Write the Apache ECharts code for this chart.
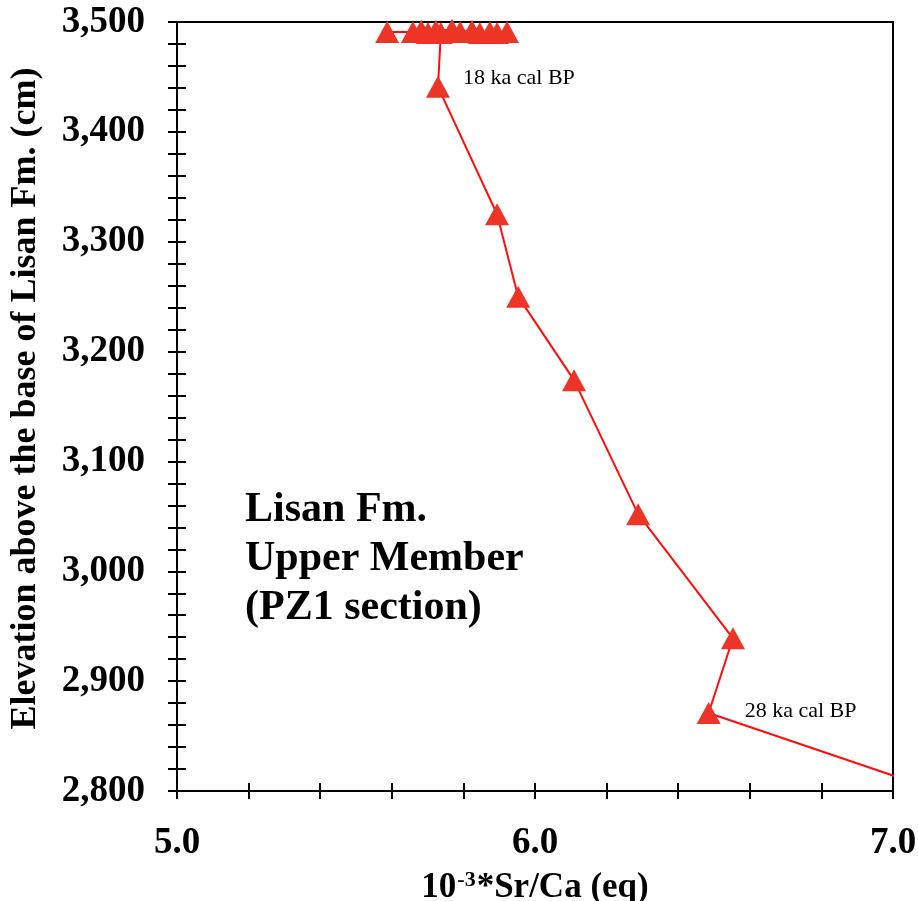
<!DOCTYPE html>
<html>
<head>
<meta charset="utf-8">
<script src="https://cdn.jsdelivr.net/npm/echarts@6/dist/echarts.min.js"></script>
<style>html,body{margin:0;padding:0;background:#fff}#c{width:918px;height:901px}</style>
</head>
<body>
<div id="c"></div>
<script>
// Sr/Ca ratio (10^-3, eq) vs elevation above base of Lisan Fm. (cm), PZ1 section
const srCa = [5.587, 5.659, 5.682, 5.701, 5.723, 5.768, 5.791, 5.824, 5.846, 5.874, 5.894, 5.922, 5.737, 5.729, 5.894, 5.953, 6.109, 6.288, 6.553, 6.485, 7.2];
const elevation = [3491, 3491, 3492, 3490, 3492, 3493, 3491, 3492, 3490, 3491, 3490, 3491, 3490, 3441, 3325, 3250, 3174, 3052, 2939, 2871, 2792];
const xTickLabels = ['5.0', '6.0', '7.0'];
const annotations = [{ index: 13, text: '18 ka cal BP' }, { index: 19, text: '28 ka cal BP' }];
const panelTitle = ['Lisan Fm.', 'Upper Member', '(PZ1 section)'];

const FONT = 'Liberation Serif';
const points = srCa.map((x, i) => {
  const p = { value: [x, elevation[i]] };
  const a = annotations.find(a => a.index === i);
  if (a) {
    p.label = {
      show: true, formatter: a.text, position: 'right',
      distance: i === 13 ? 13 : 24, offset: i === 13 ? [0, -9] : [0, -2],
      fontFamily: FONT, fontSize: 22, color: '#000'
    };
  }
  return p;
});

const chart = echarts.init(document.getElementById('c'), null, { renderer: 'canvas' });
const xBase = {
  type: 'value', min: 5, max: 7, interval: 0.2, position: 'bottom',
  splitLine: { show: false }
};
const yBase = {
  type: 'value', min: 2800, max: 3500, interval: 20, position: 'left',
  splitLine: { show: false }
};
chart.setOption({
  backgroundColor: '#fff',
  animation: false,
  grid: { left: 177, right: 25, top: 22, bottom: 110, outerBoundsMode: 'none', containLabel: false, show: true, borderColor: '#000', borderWidth: 2, backgroundColor: 'transparent' },
  xAxis: [
    Object.assign({}, xBase, {
      axisLine: { show: true, lineStyle: { color: '#000', width: 2 } },
      axisTick: { show: true, inside: false, length: 8, lineStyle: { color: '#000', width: 2 } },
      axisLabel: {
        margin: 34, fontFamily: FONT, fontWeight: 'bold', fontSize: 37, color: '#000',
        formatter: v => { const s = v.toFixed(1); return xTickLabels.includes(s) && Math.abs(v - Math.round(v)) < 1e-6 ? s : ''; }
      },
      name: '{b|10}{s|-3}{b|*Sr/Ca (eq)}', nameLocation: 'middle', nameGap: 78,
      nameTextStyle: {
        rich: {
          b: { fontFamily: FONT, fontWeight: 'bold', fontSize: 35, color: '#000', lineHeight: 36, verticalAlign: 'bottom' },
          s: { fontFamily: FONT, fontWeight: 'bold', fontSize: 22, color: '#000', lineHeight: 36, verticalAlign: 'top', padding: [0, 1, 14, 1] }
        }
      }
    }),
    Object.assign({}, xBase, {
      axisLine: { show: false },
      axisTick: { show: true, inside: true, length: 8, lineStyle: { color: '#000', width: 2 } },
      axisLabel: { show: false }
    })
  ],
  yAxis: [
    Object.assign({}, yBase, {
      axisLine: { show: true, lineStyle: { color: '#000', width: 2 } },
      axisTick: { show: true, inside: false, length: 9, lineStyle: { color: '#000', width: 2 } },
      axisLabel: {
        margin: 32, fontFamily: FONT, fontWeight: 'bold', fontSize: 37, color: '#000',
        formatter: v => (Math.round(v) % 100 === 0 ? Math.round(v).toLocaleString('en-US') : '')
      },
      name: 'Elevation above the base of Lisan Fm. (cm)', nameLocation: 'middle', nameGap: 133, nameRotate: 90,
      nameTextStyle: { fontFamily: FONT, fontWeight: 'bold', fontSize: 36, color: '#000', padding: [0, 0, 0, 16] }
    }),
    Object.assign({}, yBase, {
      axisLine: { show: false },
      axisTick: { show: true, inside: true, length: 9, lineStyle: { color: '#000', width: 2 } },
      axisLabel: { show: false }
    })
  ],
  series: [{
    type: 'line', xAxisIndex: 0, yAxisIndex: 0, clip: true,
    data: points,
    symbol: 'triangle', symbolSize: [24, 22], showAllSymbol: true,
    itemStyle: { color: '#ec3427' },
    lineStyle: { color: '#ff0d0d', width: 2 },
    emphasis: { disabled: true },
    z: 3
  }],
  graphic: [{
    type: 'text', left: 245, top: 486, z: 10,
    style: {
      text: panelTitle.join('\n'), fontFamily: FONT, fontWeight: 'bold', fontSize: 42,
      lineHeight: 49, fill: '#000'
    }
  }]
});
</script>
</body>
</html>
